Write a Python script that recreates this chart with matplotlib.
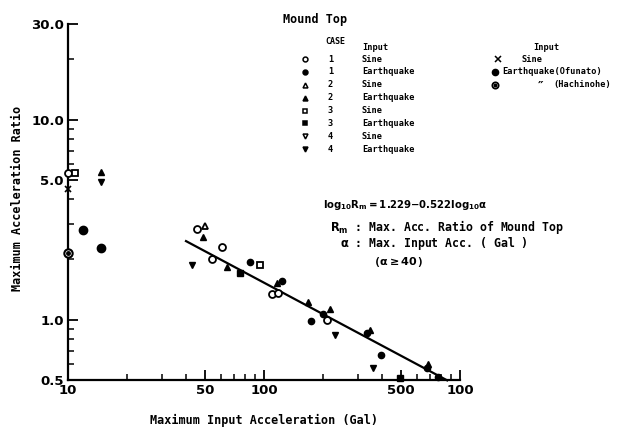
import numpy as np
import matplotlib
matplotlib.use("Agg")
import matplotlib.pyplot as plt
from matplotlib.ticker import FixedLocator, NullFormatter

# data (x: Gal, y: ratio)
c1_sine_x = [10.0, 45.5, 54.3, 61.1, 110, 118, 210]
c1_sine_y = [5.4, 2.85, 2.0, 2.32, 1.35, 1.36, 1.0]
c1_eq_x = [84.9, 124, 174, 200, 335, 395, 679, 773]
c1_eq_y = [1.95, 1.57, 0.99, 1.07, 0.86, 0.67, 0.575, 0.52]
c2_sine_x = [50]
c2_sine_y = [2.95]
c2_eq_x = [14.7, 48.9, 64.7, 116, 168, 217, 348, 687]
c2_eq_y = [5.5, 2.58, 1.84, 1.53, 1.23, 1.13, 0.89, 0.60]
c3_sine_x = [10.8, 95.5]
c3_sine_y = [5.4, 1.88]
c3_eq_x = [75.5, 494]
c3_eq_y = [1.72, 0.51]
c4_sine_x = []
c4_sine_y = []
c4_eq_x = [14.7, 43, 230, 360]
c4_eq_y = [4.9, 1.88, 0.84, 0.575]
base_sine_x = [10.0]
base_sine_y = [4.5]
ofunato_x = [11.9, 14.7]
ofunato_y = [2.8, 2.29]
hachinohe_x = [10.0]
hachinohe_y = [2.16]

# regression log10(R) = 1.229 - 0.522 log10(a), a >= 40
fit_a, fit_b = 1.229, -0.522
fit_range = [40, 860]

xticks = [10, 50, 100, 500, 1000]
xticklabels = ["10", "50", "100", "500", "100"]
yticks = [0.5, 1.0, 5.0, 10.0, 30.0]
yticklabels = ["0.5", "1.0", "5.0", "10.0", "30.0"]

W, H = 634, 437
fig = plt.figure(figsize=(W / 100, H / 100), dpi=100)
ax = fig.add_axes([68 / W, 1 - 380 / H, 392 / W, 356 / H])
ax.set_xscale("log")
ax.set_yscale("log")
ax.set_xlim(10, 1000)
ax.set_ylim(0.5, 30)

for s in ["top", "right"]:
    ax.spines[s].set_visible(False)
for s in ["left", "bottom"]:
    ax.spines[s].set_linewidth(1.6)

ax.xaxis.set_major_locator(FixedLocator(xticks))
ax.set_xticklabels(xticklabels)
ax.yaxis.set_major_locator(FixedLocator(yticks))
ax.set_yticklabels(yticklabels)
xminor = [v for d in [10, 100] for v in np.arange(2, 10) * d if v not in xticks]
yminor = [0.6, 0.7, 0.8, 0.9, 2, 3, 4, 6, 7, 8, 9, 20]
ax.xaxis.set_minor_locator(FixedLocator(xminor))
ax.yaxis.set_minor_locator(FixedLocator(yminor))
ax.xaxis.set_minor_formatter(NullFormatter())
ax.yaxis.set_minor_formatter(NullFormatter())
ax.tick_params(which="major", direction="in", length=7, width=1.3,
               labelsize=9.5, pad=3)
ax.tick_params(which="minor", direction="in", length=4, width=1.1)
for lab in ax.get_xticklabels() + ax.get_yticklabels():
    lab.set_fontweight("bold")

ms = 5
k = dict(color="black", linestyle="none", clip_on=False, zorder=3)
ax.plot(c1_sine_x, c1_sine_y, marker="o", mfc="white", mew=1.3, ms=ms, **k)
ax.plot(c1_eq_x, c1_eq_y, marker="o", ms=ms - 0.5, **k)
ax.plot(c2_sine_x, c2_sine_y, marker="^", mfc="white", mew=1.3, ms=ms, **k)
ax.plot(c2_eq_x, c2_eq_y, marker="^", ms=ms, **k)
ax.plot(c3_sine_x, c3_sine_y, marker="s", mfc="white", mew=1.3, ms=ms - 0.5, **k)
ax.plot(c3_eq_x, c3_eq_y, marker="s", ms=ms - 0.5, **k)
ax.plot(c4_sine_x, c4_sine_y, marker="v", mfc="white", mew=1.3, ms=ms, **k)
ax.plot(c4_eq_x, c4_eq_y, marker="v", ms=ms, **k)
ax.plot(base_sine_x, base_sine_y, marker="x", mew=1.2, ms=ms, **k)
ax.plot(ofunato_x, ofunato_y, marker="o", ms=ms + 1, **k)
ax.plot(hachinohe_x, hachinohe_y, marker="o", mfc="white", mew=1.5, ms=ms + 1, **k)
ax.plot(hachinohe_x, hachinohe_y, marker="o", ms=2.5, **k)

fx = np.array(fit_range, dtype=float)
ax.plot(fx, 10 ** (fit_a + fit_b * np.log10(fx)), color="black", lw=1.6,
        clip_on=False)

mono = "DejaVu Sans Mono"
fig.text(18 / W, 1 - 198 / H, "Maximum Acceleration Ratio", rotation=90,
         ha="center", va="center", family=mono, fontsize=8.5, fontweight="bold")
fig.text(264 / W, 1 - 420 / H, "Maximum Input Acceleration (Gal)",
         ha="center", va="center", family=mono, fontsize=8.5, fontweight="bold")


def px(x, y):
    return x / W, 1 - y / H


def ftext(x, y, s, size=6.2, **kw):
    fig.text(*px(x, y), s, ha="left", va="center", family=mono,
             fontsize=size, fontweight="bold", **kw)


def fmark(x, y, **kw):
    fx_, fy_ = px(x, y)
    fig.add_artist(plt.Line2D([fx_], [fy_], transform=fig.transFigure,
                              color="black", linestyle="none", **kw))


# legend block
ftext(283, 19, "Mound Top", size=8.5)
ftext(325, 42, "CASE", size=6)
ftext(362, 47, "Input")
rows = [("o", True, "1", "Sine"), ("o", False, "1", "Earthquake"),
        ("^", True, "2", "Sine"), ("^", False, "2", "Earthquake"),
        ("s", True, "3", "Sine"), ("s", False, "3", "Earthquake"),
        ("v", True, "4", "Sine"), ("v", False, "4", "Earthquake")]
for i, (m, hollow, case, inp) in enumerate(rows):
    y = 59 + 12.9 * i
    fmark(305, y, marker=m, ms=3.5, mfc="white" if hollow else "black", mew=1.1)
    ftext(328, y, case)
    ftext(362, y, inp)

ftext(533, 47, "Input")
fmark(498, 59, marker="x", ms=4, mew=1.1)
ftext(521, 59, "Sine")
fmark(495, 72, marker="o", ms=4.5)
ftext(502, 72, "Earthquake(Ofunato)")
fmark(495, 85, marker="o", ms=4.5, mfc="white", mew=1.3)
fmark(495, 85, marker="o", ms=1.8)
ftext(537, 86, "\u2033", size=9)
ftext(553, 85, "(Hachinohe)")

# regression annotation
ftext(323, 205, r"$\mathbf{log_{10}R_m{=}1.229{-}0.522log_{10}\alpha}$", size=7.3)
ftext(330, 227, r"$\mathbf{R_m}$ : Max. Acc. Ratio of Mound Top", size=8.3)
ftext(340, 244, r"$\mathbf{\alpha}$ : Max. Input Acc. ( Gal )", size=8.3)
ftext(373, 262, r"($\mathbf{\alpha{\geq}40}$)", size=8)

fig.savefig("out.png", dpi=100)
